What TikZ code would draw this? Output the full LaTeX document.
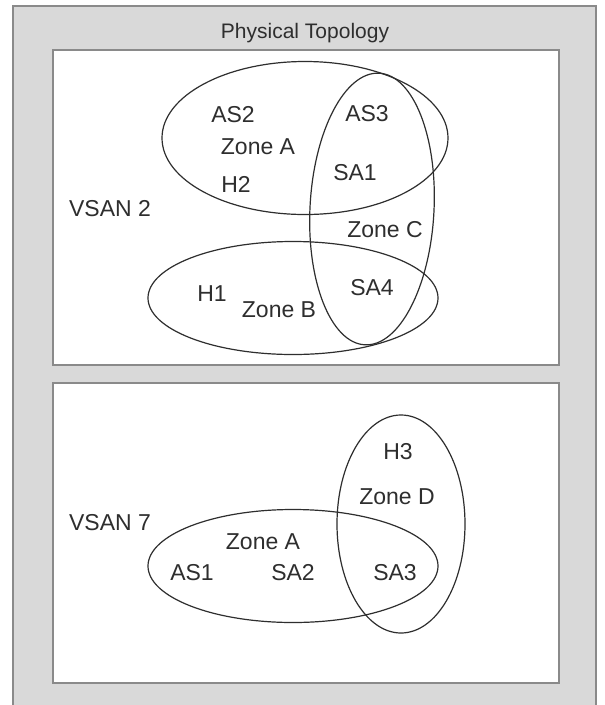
\documentclass[tikz,border=0pt]{standalone}
\usepackage{fontspec}
\setmainfont{Liberation Sans}
\usetikzlibrary{shapes.geometric}
\definecolor{framegray}{HTML}{D9D9D9}
\definecolor{edgegray}{HTML}{8A8A8A}
\definecolor{inkgray}{HTML}{2E2E2E}
\tikzset{
  lbl/.style={inner sep=0pt, text=inkgray, font=\fontsize{23}{26}\selectfont},
  zone/.style={ellipse, draw=inkgray, line width=1.2pt, inner sep=0pt},
  panel/.style={fill=white, draw=edgegray, line width=2pt}
}
\begin{document}
\begin{tikzpicture}[x=1pt,y=-1pt]
\useasboundingbox (0,0) rectangle (605,705);
\clip (0,0) rectangle (605,705);
\fill[white] (0,0) rectangle (605,705);
% outer frame
\draw[fill=framegray, draw=edgegray, line width=2pt] (13,6) rectangle (596,715);
\node[lbl, font=\fontsize{21}{24}\selectfont] (title) at (305,33) {Physical Topology};
% panels
\draw[panel] (53,50) rectangle (559,365);
\draw[panel] (53,383) rectangle (559,683);
% VSAN 2
\node[zone, minimum width=286pt, minimum height=153pt] (zA) at (305,138) {};
\node[zone, minimum width=290pt, minimum height=113pt] (zB) at (293,298) {};
\node[zone, minimum width=124pt, minimum height=272pt, rotate=-3] (zC) at (372,209) {};
\node[lbl] (vsan2) at (110,209) {VSAN 2};
\node[lbl] (as2) at (233,115) {AS2};
\node[lbl] (zoneA) at (258,147) {Zone A};
\node[lbl] (h2) at (236,184) {H2};
\node[lbl] (as3) at (367,114) {AS3};
\node[lbl] (sa1) at (355,173) {SA1};
\node[lbl] (zoneC) at (385,230) {Zone C};
\node[lbl] (h1) at (212,294) {H1};
\node[lbl] (zoneB) at (279,310) {Zone B};
\node[lbl] (sa4) at (372,288) {SA4};
% VSAN 7
\node[zone, minimum width=290pt, minimum height=113pt] (zA7) at (293,566) {};
\node[zone, minimum width=128pt, minimum height=218pt] (zD) at (401,524) {};
\node[lbl] (vsan7) at (110,523) {VSAN 7};
\node[lbl] (h3) at (398,452) {H3};
\node[lbl] (zoneD) at (397,497) {Zone D};
\node[lbl] (zoneA7) at (263,542) {Zone A};
\node[lbl] (as1) at (192,573) {AS1};
\node[lbl] (sa2) at (293,573) {SA2};
\node[lbl] (sa3) at (395,573) {SA3};
\end{tikzpicture}
\end{document}
